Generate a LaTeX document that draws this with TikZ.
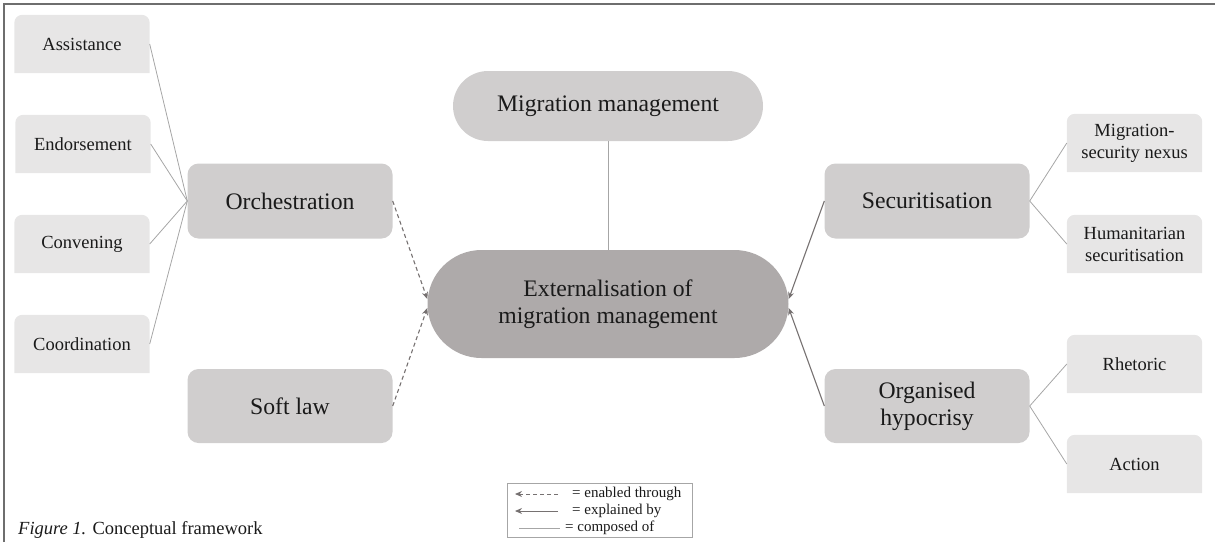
\documentclass[tikz,border=0pt]{standalone}
\usepackage{fontspec}
\setmainfont{Liberation Serif}
\usetikzlibrary{arrows.meta,backgrounds,shapes.misc}
\definecolor{leafc}{HTML}{E7E6E6}
\definecolor{midc}{HTML}{D0CECE}
\definecolor{cenc}{HTML}{AEAAAA}
\definecolor{thinc}{HTML}{A6A6A6}
\definecolor{arrc}{HTML}{767171}
\definecolor{framec}{HTML}{6E6E6E}
\definecolor{txtc}{HTML}{1A1A1A}
\tikzset{
  leafbox/.style={minimum width=135pt, minimum height=58pt, inner sep=0pt, align=center,
    text=txtc, font=\fontsize{18.5}{22}\selectfont},
  midbox/.style={fill=midc, rounded corners=11pt, minimum width=205pt, minimum height=75pt,
    inner sep=0pt, align=center, text=txtc, font=\fontsize{23.7}{27}\selectfont},
  pillbox/.style={rounded rectangle, inner sep=0pt, align=center, text=txtc,
    font=\fontsize{23.7}{27}\selectfont},
  compline/.style={draw=thinc, line width=0.8pt},
  explline/.style={draw=arrc, line width=1.1pt, -{Stealth[length=7pt,width=6pt]}},
  enabline/.style={draw=arrc, line width=1.1pt, dash pattern=on 4pt off 3pt, -{Stealth[length=7pt,width=6pt]}},
  legtext/.style={anchor=west, inner sep=0pt, text=txtc, font=\fontsize{15}{18}\selectfont},
}
\begin{document}
\begin{tikzpicture}[x=1pt,y=-1pt]
\useasboundingbox (0,0) rectangle (1215,542);
\draw[framec, line width=1.4pt] (4,542) -- (4,4) -- (1215,4);

% leaves left
\node[leafbox] (as) at (82,44) {Assistance};
\node[leafbox] (en) at (83,144) {Endorsement};
\node[leafbox] (cv) at (82,244) {Convening};
\node[leafbox] (co) at (82,344) {Coordination};
% leaves right
\node[leafbox] (msn) at (1134.5,143) {Migration-\\security nexus};
\node[leafbox] (hs) at (1134.5,244) {Humanitarian\\securitisation};
\node[leafbox] (rh) at (1134.5,364) {Rhetoric};
\node[leafbox] (ac) at (1134.5,464) {Action};

\begin{scope}[on background layer]
\foreach \n in {as,en,cv,co,msn,hs,rh,ac}{
  \fill[leafc] (\n.south west) -- ([yshift=-8pt]\n.north west)
    arc[start angle=180,end angle=90,radius=8pt] -- ([xshift=-8pt]\n.north east)
    arc[start angle=90,end angle=0,radius=8pt] -- (\n.south east) -- cycle;
}
\end{scope}

% middle boxes
\node[midbox] (or) at (290,201) {Orchestration};
\node[midbox, minimum height=74pt] (sl) at (290,406) {Soft law};
\node[midbox] (se) at (927,201) {Securitisation};
\node[midbox, minimum height=74pt] (oh) at (927,406) {Organised\\hypocrisy};

% pills
\node[pillbox, fill=midc, minimum width=310pt, minimum height=70pt] (mm) at (608,106) {Migration management};
\node[pillbox, fill=cenc, minimum width=361pt, minimum height=108pt] (ce) at (608,304) {Externalisation of\\migration management};

% composed-of lines
\foreach \n in {as,en,cv,co}{ \draw[compline] (\n.east) -- (or.west); }
\draw[compline] (se.east) -- (msn.west);
\draw[compline] (se.east) -- (hs.west);
\draw[compline] (oh.east) -- (rh.west);
\draw[compline] (oh.east) -- (ac.west);
\draw[compline] (mm.south) -- (ce.north);

% enabled-through / explained-by arrows
\draw[enabline] (or.east) -- ([yshift=5pt]ce.west);
\draw[enabline] (sl.east) -- ([yshift=-4pt]ce.west);
\draw[explline] (se.west) -- ([yshift=5pt]ce.east);
\draw[explline] (oh.west) -- ([yshift=-4pt]ce.east);

% legend
\node[draw=thinc, line width=0.9pt, minimum width=185pt, minimum height=54pt, inner sep=0pt] (lg) at (599.5,510) {};
\coordinate (l1a) at (558,494); \coordinate (l1b) at (515,494);
\coordinate (l2a) at (558,511); \coordinate (l2b) at (515,511);
\coordinate (l3a) at (519,528); \coordinate (l3b) at (560,528);
\draw[enabline, line width=0.9pt] (l1a) -- (l1b);
\draw[explline, line width=0.9pt] (l2a) -- (l2b);
\draw[compline] (l3a) -- (l3b);
\node[legtext] (t1) at (572,494) {= enabled through};
\node[legtext] (t2) at (572,511) {= explained by};
\node[legtext] (t3) at (565,528) {= composed of};

% caption
\node[anchor=base west, inner sep=0pt, text=txtc, font=\fontsize{18.5}{22}\selectfont] (cap) at (18,534) {\textit{Figure 1.} Conceptual framework};
\end{tikzpicture}
\end{document}
